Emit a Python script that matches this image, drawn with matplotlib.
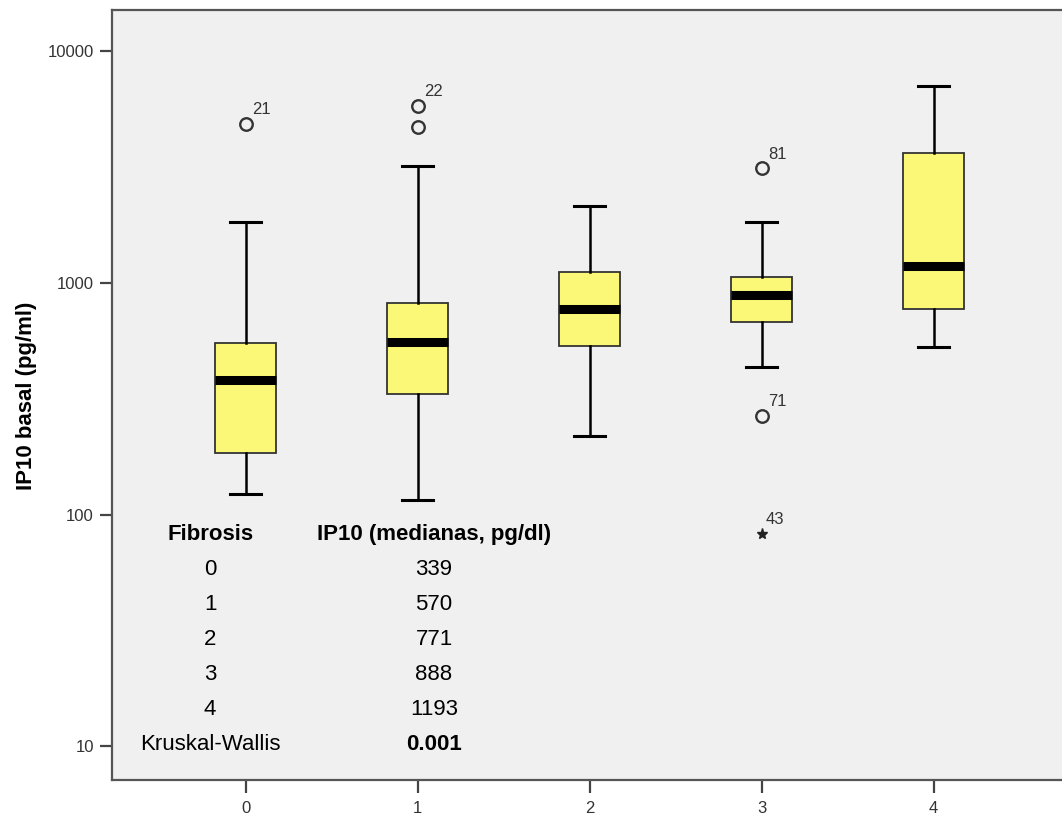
import matplotlib.pyplot as plt
from matplotlib.ticker import NullLocator

plt.rcParams['font.family'] = ['Liberation Sans', 'DejaVu Sans']

# Datos (IP10 basal por grado de fibrosis)
fibrosis = [0, 1, 2, 3, 4]
whisker_low = [122, 115, 218, 431, 526]
q1 = [185, 330, 532, 678, 769]
medians = [380, 556, 766, 880, 1178]
q3 = [547, 818, 1106, 1059, 3627]
whisker_high = [1818, 3178, 2143, 1823, 7030]
outliers = [[4820], [5765, 4667], [], [3106, 266], []]
outlier_ids = [['21'], ['22', ''], [], ['81', '71'], []]
extremes = [[], [], [], [82.4], []]
extreme_ids = [[], [], [], ['43'], []]

# Tabla de medianas
table_rows = ['0', '1', '2', '3', '4']
table_medians = ['339', '570', '771', '888', '1193']
kw_p = '0.001'

stats = []
for i in range(len(fibrosis)):
    stats.append(dict(med=medians[i], q1=q1[i], q3=q3[i],
                      whislo=whisker_low[i], whishi=whisker_high[i],
                      fliers=outliers[i]))

fig = plt.figure(figsize=(10.62, 8.16), dpi=100)
ax = fig.add_axes([0.1055, 0.0441, 0.8992, 0.9436])
ax.set_facecolor('#f0f0f0')
ax.set_yscale('log')

ax.bxp(stats, positions=fibrosis, widths=0.35, capwidths=0.175,
       patch_artist=True,
       boxprops=dict(facecolor='#fbf878', edgecolor='#333333', linewidth=1.3),
       medianprops=dict(color='black', linewidth=6.5, solid_capstyle='butt'),
       whiskerprops=dict(color='black', linewidth=1.8),
       capprops=dict(color='black', linewidth=2.2),
       flierprops=dict(marker='o', markerfacecolor='none', markeredgecolor='#333333',
                       markersize=9, markeredgewidth=1.7))

# Valores extremos (estrella)
for i, vals in enumerate(extremes):
    for v in vals:
        ax.plot(fibrosis[i], v, marker='*', color='#222222', markersize=8, ls='none')

# Etiquetas de casos atipicos
for i in range(len(fibrosis)):
    for v, lab in zip(outliers[i], outlier_ids[i]):
        if lab:
            ax.annotate(lab, (fibrosis[i], v), xytext=(5, 7), textcoords='offset points',
                        fontsize=12, color='#333333', ha='left', va='baseline')
    for v, lab in zip(extremes[i], extreme_ids[i]):
        ax.annotate(lab, (fibrosis[i], v), xytext=(3, 7), textcoords='offset points',
                    fontsize=12, color='#333333', ha='left', va='baseline')

ax.set_xlim(-0.776, 4.776)
ax.set_ylim(7.17, 14950)
ax.set_xticks(fibrosis)
ax.set_xticklabels([str(f) for f in fibrosis])
ax.set_yticks([10, 100, 1000, 10000])
ax.set_yticklabels(['10', '100', '1000', '10000'])
ax.yaxis.set_minor_locator(NullLocator())

for s in ['left', 'bottom', 'top']:
    ax.spines[s].set_color('#555555')
    ax.spines[s].set_linewidth(1.6)
ax.spines['right'].set_visible(False)
ax.tick_params(length=9, width=1.6, color='#444444', labelsize=12,
               labelcolor='#333333', pad=4)
ax.tick_params(axis='x', pad=6)

fig.text(27 / 1062, 0.5145, 'IP10 basal (pg/ml)', rotation=90, ha='center', va='center',
         fontsize=16, fontweight='bold')

# Tabla dentro del grafico
col1_x = -0.206
col2_x = 1.096
header_y = 0.3195
step = 0.0455
ax.text(col1_x, header_y, 'Fibrosis', transform=ax.get_xaxis_transform(),
        ha='center', va='center', fontsize=16, fontweight='bold')
ax.text(col2_x, header_y, 'IP10 (medianas, pg/dl)', transform=ax.get_xaxis_transform(),
        ha='center', va='center', fontsize=16, fontweight='bold')
for k, (r, m) in enumerate(zip(table_rows, table_medians)):
    y = header_y - (k + 1) * step
    ax.text(col1_x, y, r, transform=ax.get_xaxis_transform(), ha='center', va='center', fontsize=16)
    ax.text(col2_x, y, m, transform=ax.get_xaxis_transform(), ha='center', va='center', fontsize=16)
y = header_y - 6 * step
ax.text(col1_x, y, 'Kruskal-Wallis', transform=ax.get_xaxis_transform(),
        ha='center', va='center', fontsize=16)
ax.text(col2_x, y, kw_p, transform=ax.get_xaxis_transform(),
        ha='center', va='center', fontsize=16, fontweight='bold')

fig.savefig('out.png', dpi=100)
